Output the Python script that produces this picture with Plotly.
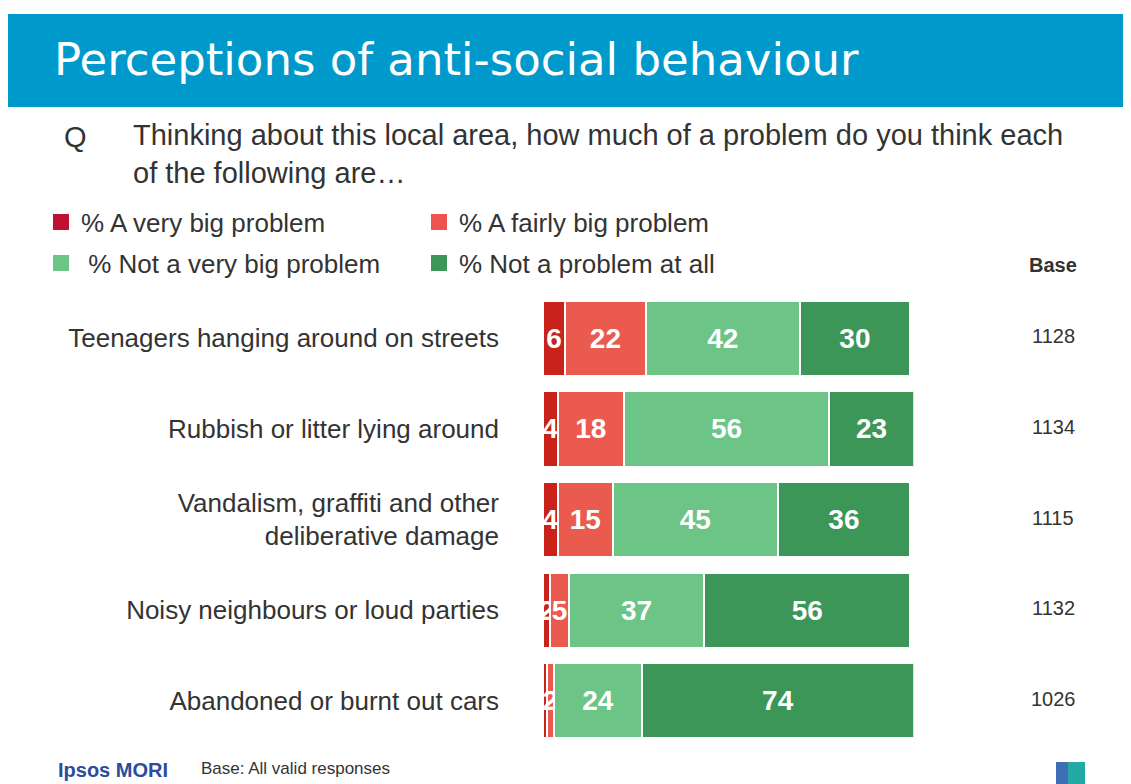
import plotly.graph_objects as go

# survey data
categories = [
    "Teenagers hanging around on streets",
    "Rubbish or litter lying around",
    "Vandalism, graffiti and other<br>deliberative damage",
    "Noisy neighbours or loud parties",
    "Abandoned or burnt out cars",
]
very_big = [6, 4, 4, 2, 1]
fairly_big = [22, 18, 15, 5, 2]
not_very_big = [42, 56, 45, 37, 24]
not_at_all = [30, 23, 36, 56, 74]
base = [1128, 1134, 1115, 1132, 1026]

series_names = [
    "% A very big problem",
    "% A fairly big problem",
    "\u00a0% Not a very big problem",
    "% Not a problem at all",
]
colors = ["#C8221A", "#EB5A4F", "#6CC487", "#3C9657"]
legend_colors = ["#BD1234", "#EE5350", "#6CC487", "#3C9657"]

# page body has an 8px margin, so the figure sits 8px in from the window edge
OFF = 8
W, H = 1131 - OFF, 784 - OFF
FONT = "Liberation Sans, Arial, sans-serif"


def px_x(x):
    return (x - OFF) / W


def px_y(y):
    return 1 - (y - OFF) / H


fig = go.Figure()
all_series = [very_big, fairly_big, not_very_big, not_at_all]
for i, vals in enumerate(all_series):
    labels = [str(v) if v > 1 else "" for v in vals]
    fig.add_trace(go.Bar(
        y=categories, x=vals, orientation="h", name=series_names[i],
        marker=dict(color=colors[i], line=dict(color="white", width=2)),
        text=labels, textposition="inside", insidetextanchor="middle",
        textfont=dict(family=FONT, size=28, color="white", weight="bold"),
        showlegend=False, hoverinfo="x+y",
    ))

# legend-only entries with bigger square swatches
for i, name in enumerate(series_names):
    fig.add_trace(go.Scatter(
        x=[None], y=[None], mode="markers", name=name,
        marker=dict(symbol="square", size=16, color=legend_colors[i]),
        legend="legend" if i < 2 else "legend2",
    ))

legend_font = dict(family=FONT, size=26, color="#333333")
fig.update_layout(
    width=W, height=H, autosize=False,
    margin=dict(l=0, r=0, t=0, b=0),
    paper_bgcolor="white", plot_bgcolor="white",
    barmode="stack", bargap=0.17,
    uniformtext=dict(minsize=28, mode="show"),
    font=dict(family=FONT, color="#333333"),
    xaxis=dict(domain=[px_x(543), px_x(543 + 3.67 * 101)], range=[0, 101],
               visible=False, fixedrange=True),
    yaxis=dict(domain=[px_y(746), px_y(293)], autorange="reversed",
               showline=False, showgrid=False, ticks="",
               ticklabelstandoff=43,
               tickfont=dict(family=FONT, size=26, color="#333333")),
    legend=dict(orientation="h", x=px_x(41), y=px_y(222), xanchor="left",
                yanchor="middle", entrywidth=333, traceorder="normal",
                itemsizing="trace", font=legend_font),
    legend2=dict(orientation="h", x=px_x(41), y=px_y(263), xanchor="left",
                 yanchor="middle", entrywidth=333, traceorder="normal",
                 itemsizing="trace", font=legend_font),
)

# header band
fig.add_shape(type="rect", xref="paper", yref="paper",
              x0=px_x(7), x1=1, y0=px_y(107), y1=px_y(14),
              fillcolor="#0099CC", line=dict(width=0), layer="below")
fig.add_annotation(text="Perceptions of anti-social behaviour", xref="paper", yref="paper",
                   x=px_x(52), y=px_y(60), xanchor="left", yanchor="middle", showarrow=False,
                   font=dict(family="DejaVu Sans, sans-serif", size=45, color="white"))

# question
fig.add_annotation(text="Q", xref="paper", yref="paper", x=px_x(62), y=px_y(137),
                   xanchor="left", yanchor="middle", showarrow=False,
                   font=dict(family=FONT, size=29, color="#333333"))
fig.add_annotation(text="Thinking about this local area, how much of a problem do you think each<br>of the following are…",
                   xref="paper", yref="paper", x=px_x(131), y=px_y(154), xanchor="left",
                   yanchor="middle", align="left", showarrow=False,
                   font=dict(family=FONT, size=29, color="#333333"))

# base column
fig.add_annotation(text="<b>Base</b>", xref="paper", yref="paper", x=px_x(1053), y=px_y(265),
                   xanchor="center", yanchor="middle", showarrow=False,
                   font=dict(family=FONT, size=20, color="#333333"))
for cat, b in zip(categories, base):
    fig.add_annotation(text=str(b), xref="paper", yref="y", x=px_x(1053), y=cat,
                       xanchor="center", yanchor="middle", showarrow=False, yshift=2,
                       font=dict(family=FONT, size=20, color="#333333"))

# footer
fig.add_annotation(text="<b>Ipsos MORI</b>", xref="paper", yref="paper", x=px_x(56), y=px_y(770),
                   xanchor="left", yanchor="middle", showarrow=False,
                   font=dict(family=FONT, size=20, color="#2B4C9B"))
fig.add_annotation(text="Base: All valid responses", xref="paper", yref="paper", x=px_x(199), y=px_y(768),
                   xanchor="left", yanchor="middle", showarrow=False,
                   font=dict(family=FONT, size=17, color="#333333"))
fig.add_shape(type="rect", xref="paper", yref="paper",
              x0=px_x(1056), x1=px_x(1085), y0=0, y1=px_y(762),
              fillcolor="#3E6FB6", line=dict(width=0))
fig.add_shape(type="rect", xref="paper", yref="paper",
              x0=px_x(1068), x1=px_x(1085), y0=0, y1=px_y(762),
              fillcolor="#23A9A3", line=dict(width=0))

fig.write_html("out.html")
